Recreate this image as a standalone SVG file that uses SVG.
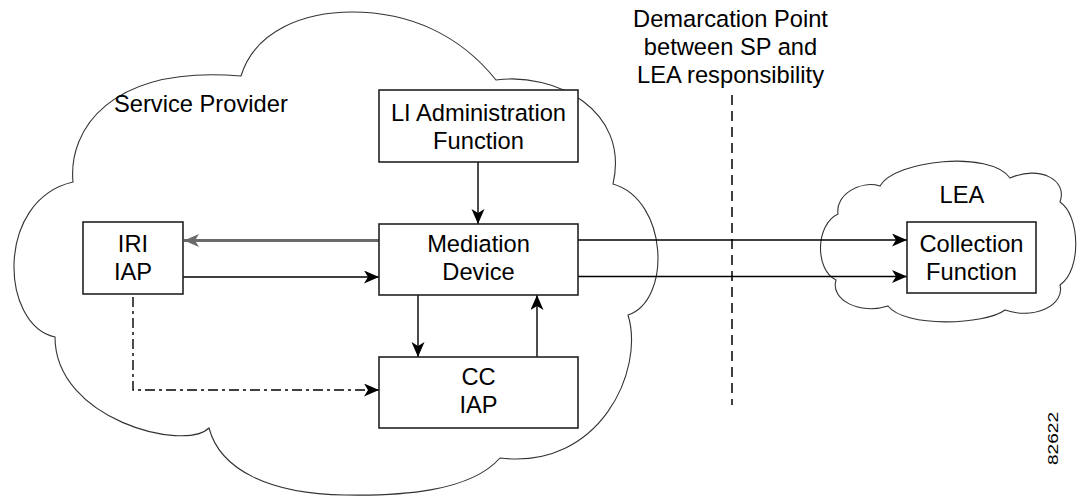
<svg xmlns="http://www.w3.org/2000/svg" width="1077" height="496" viewBox="0 0 1077 496">
<style>
.cloud{fill:#fff;stroke:#333;stroke-width:1.1}
.box{fill:#fff;stroke:#222;stroke-width:1.6}
.t{font-family:"Liberation Sans",Arial,sans-serif;font-size:23.7px;fill:#000;text-anchor:middle}
.c{stroke:#000;stroke-width:1.4;fill:none}
.g{stroke:#6a6a6a;stroke-width:2.8;fill:none}
</style>
<defs>
<marker id="ab" markerUnits="userSpaceOnUse" markerWidth="17" markerHeight="14" refX="15" refY="6.5" orient="auto">
<path d="M0,0 L15,6.5 L0,13 L4,6.5 z" fill="#000"/>
</marker>
<marker id="ag" markerUnits="userSpaceOnUse" markerWidth="17" markerHeight="14" refX="15" refY="6.5" orient="auto">
<path d="M0,0 L15,6.5 L0,13 L4,6.5 z" fill="#6a6a6a"/>
</marker>
</defs>
<rect width="1077" height="496" fill="#fff"/>
<g id="sp-cloud">
<path class="cloud" d="M241,76 C255,30 305,12 352,12 C410,12 460,35 496,80 C555,72 630,110 613,184 C668,200 672,300 628,315 C645,370 600,470 500,458 C470,492 400,496 345,495 C270,494 220,470 209,428 C185,452 55,420 55,337 C0,325 -5,200 73,182 C68,130 110,65 241,76 Z"/>
<text class="t" x="114" y="111.7" style="text-anchor:start">Service Provider</text>
</g>
<g id="lea-cloud">
<path class="cloud" d="M880,186 C895,160 990,150 1010,178 C1040,165 1068,180 1060,202 C1080,215 1082,270 1060,285 C1065,305 1035,320 1005,310 C985,325 905,328 888,306 C860,315 830,300 836,280 C815,270 815,225 838,214 C835,195 860,180 880,186 Z"/>
<text class="t" x="962" y="203.3">LEA</text>
</g>
<g id="demarcation">
<text class="t" x="730.5" y="27">Demarcation Point</text>
<text class="t" x="730.5" y="55">between SP and</text>
<text class="t" x="730.5" y="83">LEA responsibility</text>
<line x1="732" y1="95" x2="732" y2="405" stroke="#000" stroke-width="1.5" stroke-dasharray="10,6"/>
</g>
<g id="connectors">
<line class="c" x1="478" y1="162" x2="478" y2="224" marker-end="url(#ab)"/>
<line class="g" x1="379" y1="240.5" x2="184" y2="240.5" marker-end="url(#ag)"/>
<line class="c" x1="183" y1="277" x2="379" y2="277" marker-end="url(#ab)"/>
<line class="c" x1="418" y1="295" x2="418" y2="357" marker-end="url(#ab)"/>
<line class="c" x1="537" y1="357" x2="537" y2="295" marker-end="url(#ab)"/>
<line class="c" x1="578" y1="240" x2="907" y2="240" marker-end="url(#ab)"/>
<line class="c" x1="578" y1="276.5" x2="907" y2="276.5" marker-end="url(#ab)"/>
<path class="c" d="M133,297 V390 H379" stroke-dasharray="10,4,3,4" marker-end="url(#ab)"/>
</g>
<g id="li-admin">
<rect class="box" x="379" y="90" width="199" height="72"/>
<text class="t" x="478.5" y="120.7">LI Administration</text>
<text class="t" x="478.5" y="149.3">Function</text>
</g>
<g id="iri-iap">
<rect class="box" x="83" y="222" width="100" height="72"/>
<text class="t" x="133" y="252">IRI</text>
<text class="t" x="133" y="280">IAP</text>
</g>
<g id="mediation">
<rect class="box" x="379" y="224" width="199" height="71"/>
<text class="t" x="478.5" y="251.7">Mediation</text>
<text class="t" x="478.5" y="280">Device</text>
</g>
<g id="cc-iap">
<rect class="box" x="379" y="357" width="199" height="71"/>
<text class="t" x="478.5" y="385">CC</text>
<text class="t" x="478.5" y="413">IAP</text>
</g>
<g id="collection">
<rect class="box" x="907" y="222" width="129" height="71"/>
<text class="t" x="971.5" y="251.7">Collection</text>
<text class="t" x="971.5" y="280">Function</text>
</g>
<text x="1058" y="438.5" transform="rotate(-90 1058 438.5)" style="font-family:'Liberation Sans',Arial,sans-serif;font-size:14px;text-anchor:middle" textLength="53" lengthAdjust="spacingAndGlyphs">82622</text>
</svg>
